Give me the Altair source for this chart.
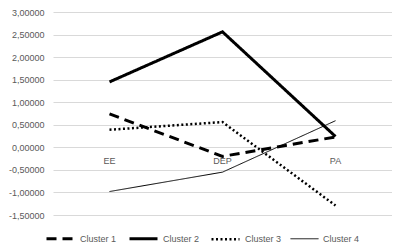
import altair as alt
import pandas as pd

categories = ["EE", "DEP", "PA"]
series = ["Cluster 1", "Cluster 2", "Cluster 3", "Cluster 4"]
cluster1 = [0.74, -0.20, 0.23]
cluster2 = [1.45, 2.56, 0.24]
cluster3 = [0.39, 0.56, -1.29]
cluster4 = [-0.98, -0.55, 0.59]
y_ticks = [-1.5, -1.0, -0.5, 0.0, 0.5, 1.0, 1.5, 2.0, 2.5, 3.0]

dashes = [[10, 6], [1, 0], [2, 2.5], [1, 0]]
widths = [3, 3, 2.5, 1]

rows = []
for s, vals in zip(series, [cluster1, cluster2, cluster3, cluster4]):
    for i, (c, v) in enumerate(zip(categories, vals)):
        rows.append({"series": s, "cat": c, "value": v, "order": i})
df = pd.DataFrame(rows)
lab = pd.DataFrame({"cat": categories, "zero": [0.0] * len(categories)})

xscale = alt.Scale(type="point", padding=0.5, domain=categories)
yscale = alt.Scale(domain=[-1.5, 3.0], nice=False, zero=False)

yaxis = alt.Axis(values=y_ticks, grid=True, gridColor="#d9d9d9", gridWidth=1,
                 domain=False, ticks=False, title=None, labelOverlap=False,
                 labelColor="#595959", labelFontSize=9,
                 labelFont="Liberation Sans", labelPadding=9,
                 labelExpr="replace(replace(format(datum.value, '.5f'), '.', ','), '\u2212', '-')")

leg = dict(title=None, orient="none", direction="horizontal",
           legendX=-8, legendY=211, padding=0,
           symbolType="stroke", symbolSize=784,
           symbolStrokeColor="black",
           labelColor="#595959", labelFontSize=9,
           labelFont="Liberation Sans", labelOffset=4,
           columnPadding=6)

lines = alt.Chart(df).mark_line(color="black", strokeCap="butt").encode(
    x=alt.X("cat:N", scale=xscale, axis=None),
    y=alt.Y("value:Q", scale=yscale, axis=yaxis),
    order="order:Q",
    strokeDash=alt.StrokeDash("series:N",
        scale=alt.Scale(type="ordinal", domain=series, range=dashes),
        legend=alt.Legend(**leg)),
    strokeWidth=alt.StrokeWidth("series:N",
        scale=alt.Scale(type="ordinal", domain=series, range=widths),
        legend=alt.Legend(**leg)),
)

labels = alt.Chart(lab).mark_text(dy=14, color="#595959", fontSize=9,
                                  font="Liberation Sans").encode(
    x=alt.X("cat:N", scale=xscale, axis=None),
    y=alt.Y("zero:Q", scale=yscale, axis=yaxis),
    text="cat:N",
)

chart = alt.layer(lines, labels).properties(
    width=339, height=203,
    autosize=alt.AutoSizeParams(type="none"),
    padding={"left": 45, "top": 4, "right": 0, "bottom": 33},
).configure_view(stroke=None)

chart.save("out.html", embed_options={"renderer": "svg", "actions": False})
